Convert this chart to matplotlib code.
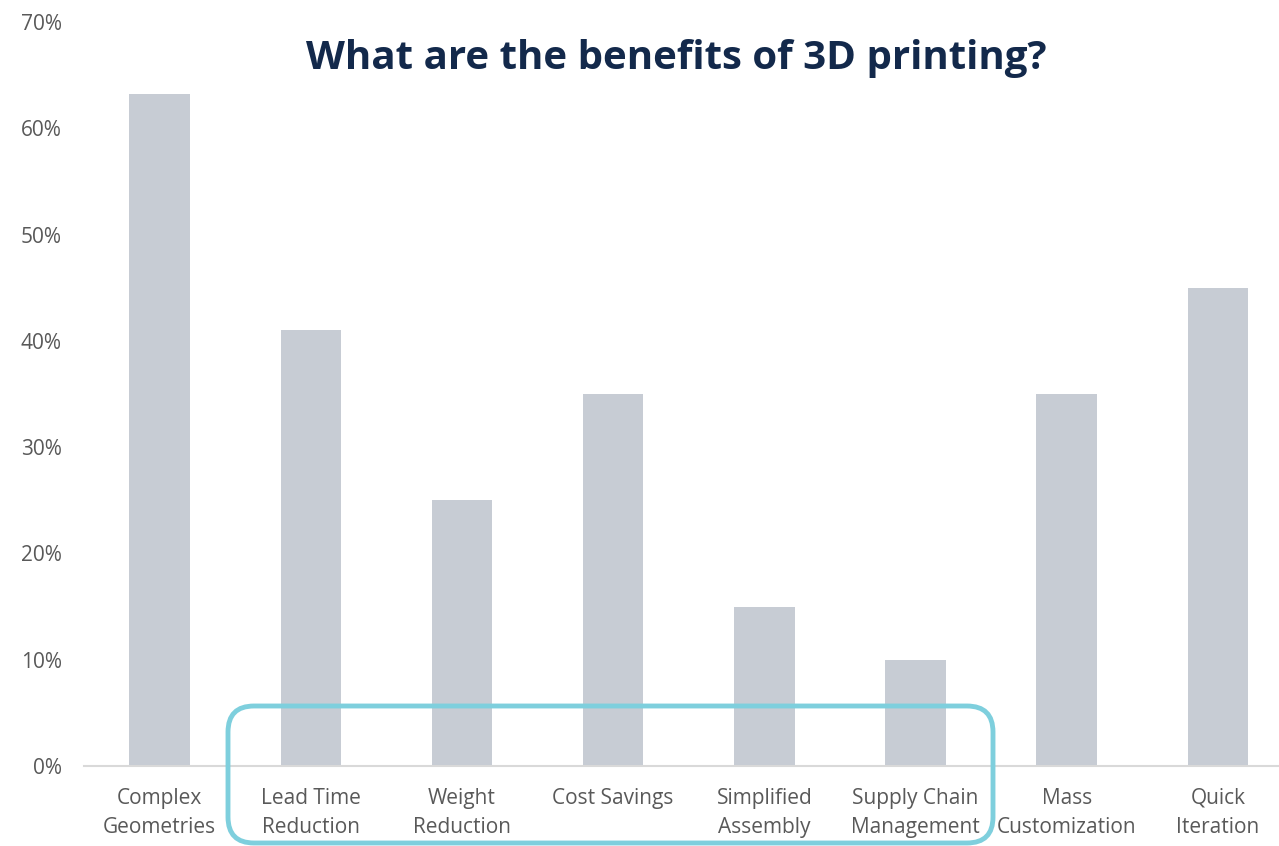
import matplotlib.pyplot as plt
from matplotlib.patches import FancyBboxPatch
from matplotlib.transforms import IdentityTransform
from matplotlib.ticker import PercentFormatter

categories = ['Complex\nGeometries', 'Lead Time\nReduction', 'Weight\nReduction',
              'Cost Savings', 'Simplified\nAssembly', 'Supply Chain\nManagement',
              'Mass\nCustomization', 'Quick\nIteration']
values = [63.2, 41, 25, 35, 15, 10, 35, 45]

plt.rcParams['font.family'] = ['Open Sans', 'DejaVu Sans']

fig = plt.figure(figsize=(12.79, 8.46), dpi=100)
ax = fig.add_axes([84 / 1279, 80 / 846, 1209.5 / 1279, 744 / 846])

ax.bar(range(len(values)), values, width=0.4, color='#C7CCD4')
ax.set_xlim(-0.5, 7.5)
ax.set_ylim(0, 70)
ax.set_yticks(range(0, 71, 10))
ax.yaxis.set_major_formatter(PercentFormatter(decimals=0))
ax.set_xticks(range(len(values)))
ax.set_xticklabels(categories, linespacing=1.5)

for s in ['top', 'right', 'left']:
    ax.spines[s].set_visible(False)
ax.spines['bottom'].set_color('#D9D9D9')
ax.spines['bottom'].set_linewidth(1.5)
ax.tick_params(axis='both', length=0, labelsize=15, colors='#595959')
ax.tick_params(axis='y', pad=16)
ax.tick_params(axis='x', pad=15.5)

fig.text(676 / 1279, 1 - 58 / 846, 'What are the benefits of 3D printing?',
         ha='center', va='center', fontsize=29, fontweight='bold', color='#13294B')

# highlight box around the middle categories
box = FancyBboxPatch((228, 3), 765, 137, boxstyle='round,pad=0,rounding_size=26',
                     transform=IdentityTransform(), fill=False,
                     edgecolor='#7ECFDD', linewidth=3.5, clip_on=False)
fig.patches.append(box)

fig.savefig('out.png', dpi=100)
